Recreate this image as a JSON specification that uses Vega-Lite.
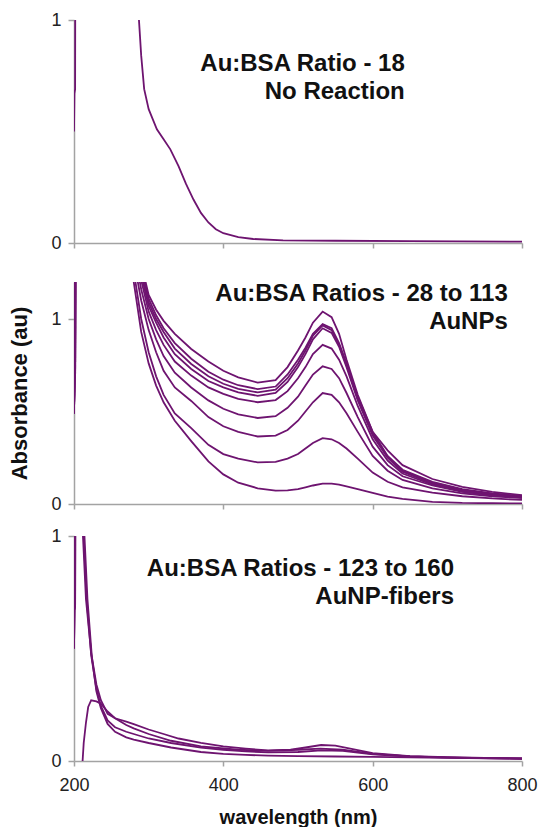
{
  "$schema": "https://vega.github.io/schema/vega-lite/v6.json",
  "padding": {"left": 8, "top": 11, "right": 2, "bottom": 0},
  "background": "white",
  "spacing": 0,
  "config": {
    "font": "Liberation Sans",
    "view": {"stroke": null},
    "axis": {
      "grid": false,
      "labelFlush": false,
      "labelOverlap": false,
      "domainColor": "#a3a3a3",
      "domainWidth": 1.5,
      "tickColor": "#a3a3a3",
      "tickWidth": 1.5,
      "labelColor": "#222222",
      "labelFont": "Liberation Sans",
      "labelFontSize": 18,
      "labelFontWeight": "normal",
      "titleFont": "Liberation Sans",
      "titleColor": "#111111",
      "titleFontWeight": "bold"
    }
  },
  "datasets": {
    "p1": [
      {"wl": 200, "a": 0.5}, {"wl": 200.6, "a": 0.67}, {"wl": 201.5, "a": 0.69}, {"wl": 202.5, "a": 3},
      {"wl": 275, "a": 3}, {"wl": 287, "a": 1.0}, {"wl": 290, "a": 0.84}, {"wl": 294, "a": 0.69},
      {"wl": 300, "a": 0.6}, {"wl": 311, "a": 0.51}, {"wl": 320, "a": 0.465}, {"wl": 329, "a": 0.42},
      {"wl": 340, "a": 0.345}, {"wl": 350, "a": 0.265}, {"wl": 360, "a": 0.195}, {"wl": 370, "a": 0.135},
      {"wl": 380, "a": 0.092}, {"wl": 390, "a": 0.062}, {"wl": 400, "a": 0.044}, {"wl": 420, "a": 0.026},
      {"wl": 440, "a": 0.018}, {"wl": 480, "a": 0.012}, {"wl": 550, "a": 0.01}, {"wl": 650, "a": 0.008},
      {"wl": 800, "a": 0.006}
    ],
    "p2": [
      {"s": "c1", "wl": 200, "a": 0.49}, {"s": "c1", "wl": 200.6, "a": 0.68}, {"s": "c1", "wl": 201.5, "a": 0.7}, {"s": "c1", "wl": 202.5, "a": 3}, {"s": "c1", "wl": 268, "a": 3},
      {"s": "c1", "wl": 280, "a": 1.6}, {"s": "c1", "wl": 290, "a": 1.3}, {"s": "c1", "wl": 300, "a": 1.13}, {"s": "c1", "wl": 310, "a": 1.05}, {"s": "c1", "wl": 320, "a": 0.99}, {"s": "c1", "wl": 335, "a": 0.92}, {"s": "c1", "wl": 357, "a": 0.838}, {"s": "c1", "wl": 380, "a": 0.77}, {"s": "c1", "wl": 400, "a": 0.72}, {"s": "c1", "wl": 420, "a": 0.685}, {"s": "c1", "wl": 446, "a": 0.656}, {"s": "c1", "wl": 470, "a": 0.67}, {"s": "c1", "wl": 486, "a": 0.74}, {"s": "c1", "wl": 500, "a": 0.83}, {"s": "c1", "wl": 510, "a": 0.9}, {"s": "c1", "wl": 520, "a": 0.98}, {"s": "c1", "wl": 533, "a": 1.04}, {"s": "c1", "wl": 545, "a": 1.01}, {"s": "c1", "wl": 555, "a": 0.92}, {"s": "c1", "wl": 565, "a": 0.78}, {"s": "c1", "wl": 580, "a": 0.59}, {"s": "c1", "wl": 600, "a": 0.39}, {"s": "c1", "wl": 620, "a": 0.29}, {"s": "c1", "wl": 640, "a": 0.21}, {"s": "c1", "wl": 680, "a": 0.135}, {"s": "c1", "wl": 720, "a": 0.092}, {"s": "c1", "wl": 760, "a": 0.066}, {"s": "c1", "wl": 800, "a": 0.048},
      {"s": "c2", "wl": 200, "a": 0.49}, {"s": "c2", "wl": 200.6, "a": 0.68}, {"s": "c2", "wl": 201.5, "a": 0.7}, {"s": "c2", "wl": 202.5, "a": 3}, {"s": "c2", "wl": 268, "a": 3},
      {"s": "c2", "wl": 280, "a": 1.55}, {"s": "c2", "wl": 290, "a": 1.27}, {"s": "c2", "wl": 300, "a": 1.11}, {"s": "c2", "wl": 310, "a": 1.02}, {"s": "c2", "wl": 320, "a": 0.95}, {"s": "c2", "wl": 335, "a": 0.87}, {"s": "c2", "wl": 357, "a": 0.785}, {"s": "c2", "wl": 380, "a": 0.715}, {"s": "c2", "wl": 400, "a": 0.672}, {"s": "c2", "wl": 420, "a": 0.642}, {"s": "c2", "wl": 446, "a": 0.621}, {"s": "c2", "wl": 470, "a": 0.635}, {"s": "c2", "wl": 486, "a": 0.7}, {"s": "c2", "wl": 500, "a": 0.78}, {"s": "c2", "wl": 510, "a": 0.845}, {"s": "c2", "wl": 520, "a": 0.92}, {"s": "c2", "wl": 533, "a": 0.972}, {"s": "c2", "wl": 545, "a": 0.95}, {"s": "c2", "wl": 555, "a": 0.87}, {"s": "c2", "wl": 565, "a": 0.76}, {"s": "c2", "wl": 580, "a": 0.58}, {"s": "c2", "wl": 600, "a": 0.39}, {"s": "c2", "wl": 620, "a": 0.26}, {"s": "c2", "wl": 640, "a": 0.185}, {"s": "c2", "wl": 680, "a": 0.12}, {"s": "c2", "wl": 720, "a": 0.08}, {"s": "c2", "wl": 760, "a": 0.057}, {"s": "c2", "wl": 800, "a": 0.043},
      {"s": "c3", "wl": 200, "a": 0.49}, {"s": "c3", "wl": 200.6, "a": 0.68}, {"s": "c3", "wl": 201.5, "a": 0.7}, {"s": "c3", "wl": 202.5, "a": 3}, {"s": "c3", "wl": 268, "a": 3},
      {"s": "c3", "wl": 280, "a": 1.52}, {"s": "c3", "wl": 290, "a": 1.25}, {"s": "c3", "wl": 300, "a": 1.09}, {"s": "c3", "wl": 310, "a": 1.0}, {"s": "c3", "wl": 320, "a": 0.93}, {"s": "c3", "wl": 335, "a": 0.84}, {"s": "c3", "wl": 357, "a": 0.757}, {"s": "c3", "wl": 380, "a": 0.69}, {"s": "c3", "wl": 400, "a": 0.65}, {"s": "c3", "wl": 420, "a": 0.622}, {"s": "c3", "wl": 446, "a": 0.603}, {"s": "c3", "wl": 470, "a": 0.618}, {"s": "c3", "wl": 486, "a": 0.68}, {"s": "c3", "wl": 500, "a": 0.76}, {"s": "c3", "wl": 510, "a": 0.83}, {"s": "c3", "wl": 520, "a": 0.91}, {"s": "c3", "wl": 533, "a": 0.965}, {"s": "c3", "wl": 545, "a": 0.94}, {"s": "c3", "wl": 555, "a": 0.86}, {"s": "c3", "wl": 565, "a": 0.75}, {"s": "c3", "wl": 580, "a": 0.57}, {"s": "c3", "wl": 600, "a": 0.38}, {"s": "c3", "wl": 620, "a": 0.255}, {"s": "c3", "wl": 640, "a": 0.18}, {"s": "c3", "wl": 680, "a": 0.115}, {"s": "c3", "wl": 720, "a": 0.076}, {"s": "c3", "wl": 760, "a": 0.054}, {"s": "c3", "wl": 800, "a": 0.041},
      {"s": "c4", "wl": 200, "a": 0.49}, {"s": "c4", "wl": 200.6, "a": 0.68}, {"s": "c4", "wl": 201.5, "a": 0.7}, {"s": "c4", "wl": 202.5, "a": 3}, {"s": "c4", "wl": 268, "a": 3},
      {"s": "c4", "wl": 280, "a": 1.5}, {"s": "c4", "wl": 290, "a": 1.24}, {"s": "c4", "wl": 300, "a": 1.07}, {"s": "c4", "wl": 310, "a": 0.98}, {"s": "c4", "wl": 320, "a": 0.9}, {"s": "c4", "wl": 335, "a": 0.81}, {"s": "c4", "wl": 357, "a": 0.73}, {"s": "c4", "wl": 380, "a": 0.665}, {"s": "c4", "wl": 400, "a": 0.63}, {"s": "c4", "wl": 420, "a": 0.603}, {"s": "c4", "wl": 446, "a": 0.585}, {"s": "c4", "wl": 470, "a": 0.6}, {"s": "c4", "wl": 486, "a": 0.66}, {"s": "c4", "wl": 500, "a": 0.74}, {"s": "c4", "wl": 510, "a": 0.81}, {"s": "c4", "wl": 520, "a": 0.89}, {"s": "c4", "wl": 533, "a": 0.95}, {"s": "c4", "wl": 545, "a": 0.925}, {"s": "c4", "wl": 555, "a": 0.85}, {"s": "c4", "wl": 565, "a": 0.74}, {"s": "c4", "wl": 580, "a": 0.56}, {"s": "c4", "wl": 600, "a": 0.37}, {"s": "c4", "wl": 620, "a": 0.25}, {"s": "c4", "wl": 640, "a": 0.175}, {"s": "c4", "wl": 680, "a": 0.11}, {"s": "c4", "wl": 720, "a": 0.073}, {"s": "c4", "wl": 760, "a": 0.052}, {"s": "c4", "wl": 800, "a": 0.04},
      {"s": "c5", "wl": 200, "a": 0.49}, {"s": "c5", "wl": 200.6, "a": 0.68}, {"s": "c5", "wl": 201.5, "a": 0.7}, {"s": "c5", "wl": 202.5, "a": 3}, {"s": "c5", "wl": 268, "a": 3},
      {"s": "c5", "wl": 280, "a": 1.45}, {"s": "c5", "wl": 290, "a": 1.21}, {"s": "c5", "wl": 300, "a": 1.04}, {"s": "c5", "wl": 310, "a": 0.94}, {"s": "c5", "wl": 320, "a": 0.86}, {"s": "c5", "wl": 335, "a": 0.77}, {"s": "c5", "wl": 357, "a": 0.694}, {"s": "c5", "wl": 380, "a": 0.63}, {"s": "c5", "wl": 400, "a": 0.595}, {"s": "c5", "wl": 420, "a": 0.568}, {"s": "c5", "wl": 446, "a": 0.55}, {"s": "c5", "wl": 470, "a": 0.562}, {"s": "c5", "wl": 486, "a": 0.61}, {"s": "c5", "wl": 500, "a": 0.68}, {"s": "c5", "wl": 510, "a": 0.74}, {"s": "c5", "wl": 520, "a": 0.81}, {"s": "c5", "wl": 533, "a": 0.86}, {"s": "c5", "wl": 545, "a": 0.84}, {"s": "c5", "wl": 555, "a": 0.78}, {"s": "c5", "wl": 565, "a": 0.69}, {"s": "c5", "wl": 580, "a": 0.53}, {"s": "c5", "wl": 600, "a": 0.35}, {"s": "c5", "wl": 620, "a": 0.235}, {"s": "c5", "wl": 640, "a": 0.165}, {"s": "c5", "wl": 680, "a": 0.105}, {"s": "c5", "wl": 720, "a": 0.07}, {"s": "c5", "wl": 760, "a": 0.05}, {"s": "c5", "wl": 800, "a": 0.038},
      {"s": "c6", "wl": 200, "a": 0.49}, {"s": "c6", "wl": 200.6, "a": 0.68}, {"s": "c6", "wl": 201.5, "a": 0.7}, {"s": "c6", "wl": 202.5, "a": 3}, {"s": "c6", "wl": 268, "a": 3},
      {"s": "c6", "wl": 280, "a": 1.38}, {"s": "c6", "wl": 290, "a": 1.16}, {"s": "c6", "wl": 300, "a": 1.0}, {"s": "c6", "wl": 310, "a": 0.89}, {"s": "c6", "wl": 320, "a": 0.8}, {"s": "c6", "wl": 335, "a": 0.71}, {"s": "c6", "wl": 357, "a": 0.63}, {"s": "c6", "wl": 380, "a": 0.56}, {"s": "c6", "wl": 400, "a": 0.515}, {"s": "c6", "wl": 420, "a": 0.485}, {"s": "c6", "wl": 446, "a": 0.465}, {"s": "c6", "wl": 470, "a": 0.475}, {"s": "c6", "wl": 486, "a": 0.52}, {"s": "c6", "wl": 500, "a": 0.58}, {"s": "c6", "wl": 510, "a": 0.64}, {"s": "c6", "wl": 520, "a": 0.7}, {"s": "c6", "wl": 533, "a": 0.744}, {"s": "c6", "wl": 545, "a": 0.73}, {"s": "c6", "wl": 555, "a": 0.68}, {"s": "c6", "wl": 565, "a": 0.6}, {"s": "c6", "wl": 580, "a": 0.47}, {"s": "c6", "wl": 600, "a": 0.31}, {"s": "c6", "wl": 620, "a": 0.21}, {"s": "c6", "wl": 640, "a": 0.15}, {"s": "c6", "wl": 680, "a": 0.1}, {"s": "c6", "wl": 720, "a": 0.066}, {"s": "c6", "wl": 760, "a": 0.048}, {"s": "c6", "wl": 800, "a": 0.036},
      {"s": "c7", "wl": 200, "a": 0.49}, {"s": "c7", "wl": 200.6, "a": 0.68}, {"s": "c7", "wl": 201.5, "a": 0.7}, {"s": "c7", "wl": 202.5, "a": 3}, {"s": "c7", "wl": 268, "a": 3},
      {"s": "c7", "wl": 280, "a": 1.32}, {"s": "c7", "wl": 290, "a": 1.1}, {"s": "c7", "wl": 300, "a": 0.94}, {"s": "c7", "wl": 310, "a": 0.82}, {"s": "c7", "wl": 320, "a": 0.72}, {"s": "c7", "wl": 335, "a": 0.63}, {"s": "c7", "wl": 357, "a": 0.557}, {"s": "c7", "wl": 380, "a": 0.47}, {"s": "c7", "wl": 400, "a": 0.42}, {"s": "c7", "wl": 420, "a": 0.39}, {"s": "c7", "wl": 446, "a": 0.365}, {"s": "c7", "wl": 470, "a": 0.37}, {"s": "c7", "wl": 486, "a": 0.4}, {"s": "c7", "wl": 500, "a": 0.45}, {"s": "c7", "wl": 510, "a": 0.5}, {"s": "c7", "wl": 520, "a": 0.55}, {"s": "c7", "wl": 533, "a": 0.6}, {"s": "c7", "wl": 545, "a": 0.59}, {"s": "c7", "wl": 555, "a": 0.55}, {"s": "c7", "wl": 565, "a": 0.49}, {"s": "c7", "wl": 580, "a": 0.39}, {"s": "c7", "wl": 600, "a": 0.26}, {"s": "c7", "wl": 620, "a": 0.18}, {"s": "c7", "wl": 640, "a": 0.13}, {"s": "c7", "wl": 680, "a": 0.085}, {"s": "c7", "wl": 720, "a": 0.058}, {"s": "c7", "wl": 760, "a": 0.042}, {"s": "c7", "wl": 800, "a": 0.032},
      {"s": "c8", "wl": 200, "a": 0.49}, {"s": "c8", "wl": 200.6, "a": 0.68}, {"s": "c8", "wl": 201.5, "a": 0.7}, {"s": "c8", "wl": 202.5, "a": 3}, {"s": "c8", "wl": 268, "a": 3},
      {"s": "c8", "wl": 280, "a": 1.26}, {"s": "c8", "wl": 290, "a": 1.0}, {"s": "c8", "wl": 300, "a": 0.82}, {"s": "c8", "wl": 310, "a": 0.69}, {"s": "c8", "wl": 320, "a": 0.59}, {"s": "c8", "wl": 335, "a": 0.49}, {"s": "c8", "wl": 357, "a": 0.41}, {"s": "c8", "wl": 380, "a": 0.32}, {"s": "c8", "wl": 400, "a": 0.27}, {"s": "c8", "wl": 420, "a": 0.245}, {"s": "c8", "wl": 446, "a": 0.225}, {"s": "c8", "wl": 470, "a": 0.228}, {"s": "c8", "wl": 486, "a": 0.245}, {"s": "c8", "wl": 500, "a": 0.27}, {"s": "c8", "wl": 510, "a": 0.3}, {"s": "c8", "wl": 520, "a": 0.33}, {"s": "c8", "wl": 533, "a": 0.356}, {"s": "c8", "wl": 545, "a": 0.35}, {"s": "c8", "wl": 555, "a": 0.33}, {"s": "c8", "wl": 565, "a": 0.3}, {"s": "c8", "wl": 580, "a": 0.245}, {"s": "c8", "wl": 600, "a": 0.17}, {"s": "c8", "wl": 620, "a": 0.12}, {"s": "c8", "wl": 640, "a": 0.09}, {"s": "c8", "wl": 680, "a": 0.062}, {"s": "c8", "wl": 720, "a": 0.042}, {"s": "c8", "wl": 760, "a": 0.03}, {"s": "c8", "wl": 800, "a": 0.022},
      {"s": "c9", "wl": 200, "a": 0.49}, {"s": "c9", "wl": 200.6, "a": 0.68}, {"s": "c9", "wl": 201.5, "a": 0.7}, {"s": "c9", "wl": 202.5, "a": 3}, {"s": "c9", "wl": 268, "a": 3},
      {"s": "c9", "wl": 280, "a": 1.2}, {"s": "c9", "wl": 290, "a": 0.93}, {"s": "c9", "wl": 300, "a": 0.76}, {"s": "c9", "wl": 310, "a": 0.64}, {"s": "c9", "wl": 320, "a": 0.55}, {"s": "c9", "wl": 335, "a": 0.45}, {"s": "c9", "wl": 357, "a": 0.34}, {"s": "c9", "wl": 380, "a": 0.23}, {"s": "c9", "wl": 400, "a": 0.16}, {"s": "c9", "wl": 420, "a": 0.115}, {"s": "c9", "wl": 446, "a": 0.085}, {"s": "c9", "wl": 470, "a": 0.072}, {"s": "c9", "wl": 486, "a": 0.074}, {"s": "c9", "wl": 500, "a": 0.08}, {"s": "c9", "wl": 510, "a": 0.09}, {"s": "c9", "wl": 520, "a": 0.1}, {"s": "c9", "wl": 533, "a": 0.11}, {"s": "c9", "wl": 545, "a": 0.11}, {"s": "c9", "wl": 555, "a": 0.105}, {"s": "c9", "wl": 565, "a": 0.095}, {"s": "c9", "wl": 580, "a": 0.08}, {"s": "c9", "wl": 600, "a": 0.06}, {"s": "c9", "wl": 620, "a": 0.04}, {"s": "c9", "wl": 640, "a": 0.028}, {"s": "c9", "wl": 680, "a": 0.012}, {"s": "c9", "wl": 720, "a": 0.006}, {"s": "c9", "wl": 760, "a": 0.004}, {"s": "c9", "wl": 800, "a": 0.003}
    ],
    "p3": [
      {"s": "d1", "wl": 211.5, "a": 0}, {"s": "d1", "wl": 213, "a": 0.08}, {"s": "d1", "wl": 216, "a": 0.17}, {"s": "d1", "wl": 219, "a": 0.24}, {"s": "d1", "wl": 223, "a": 0.27}, {"s": "d1", "wl": 230, "a": 0.265}, {"s": "d1", "wl": 236, "a": 0.255}, {"s": "d1", "wl": 245, "a": 0.22}, {"s": "d1", "wl": 255, "a": 0.19}, {"s": "d1", "wl": 270, "a": 0.16}, {"s": "d1", "wl": 280, "a": 0.145}, {"s": "d1", "wl": 300, "a": 0.12}, {"s": "d1", "wl": 330, "a": 0.09}, {"s": "d1", "wl": 370, "a": 0.065}, {"s": "d1", "wl": 420, "a": 0.05}, {"s": "d1", "wl": 460, "a": 0.045}, {"s": "d1", "wl": 500, "a": 0.05}, {"s": "d1", "wl": 530, "a": 0.055}, {"s": "d1", "wl": 560, "a": 0.05}, {"s": "d1", "wl": 600, "a": 0.032}, {"s": "d1", "wl": 650, "a": 0.02}, {"s": "d1", "wl": 700, "a": 0.015}, {"s": "d1", "wl": 800, "a": 0.01},
      {"s": "d2", "wl": 200, "a": 0.5}, {"s": "d2", "wl": 200.6, "a": 0.67}, {"s": "d2", "wl": 201.5, "a": 0.69}, {"s": "d2", "wl": 202.5, "a": 3}, {"s": "d2", "wl": 208, "a": 3}, {"s": "d2", "wl": 212, "a": 1.0}, {"s": "d2", "wl": 216, "a": 0.72}, {"s": "d2", "wl": 223, "a": 0.48}, {"s": "d2", "wl": 230, "a": 0.34}, {"s": "d2", "wl": 236, "a": 0.27}, {"s": "d2", "wl": 245, "a": 0.21}, {"s": "d2", "wl": 255, "a": 0.19}, {"s": "d2", "wl": 270, "a": 0.175}, {"s": "d2", "wl": 280, "a": 0.164}, {"s": "d2", "wl": 300, "a": 0.14}, {"s": "d2", "wl": 320, "a": 0.12}, {"s": "d2", "wl": 340, "a": 0.1}, {"s": "d2", "wl": 370, "a": 0.081}, {"s": "d2", "wl": 400, "a": 0.065}, {"s": "d2", "wl": 430, "a": 0.055}, {"s": "d2", "wl": 460, "a": 0.047}, {"s": "d2", "wl": 490, "a": 0.05}, {"s": "d2", "wl": 510, "a": 0.06}, {"s": "d2", "wl": 531, "a": 0.071}, {"s": "d2", "wl": 550, "a": 0.068}, {"s": "d2", "wl": 570, "a": 0.055}, {"s": "d2", "wl": 600, "a": 0.035}, {"s": "d2", "wl": 650, "a": 0.022}, {"s": "d2", "wl": 700, "a": 0.017}, {"s": "d2", "wl": 750, "a": 0.014}, {"s": "d2", "wl": 800, "a": 0.012},
      {"s": "d3", "wl": 200, "a": 0.5}, {"s": "d3", "wl": 200.6, "a": 0.67}, {"s": "d3", "wl": 201.5, "a": 0.69}, {"s": "d3", "wl": 202.5, "a": 3}, {"s": "d3", "wl": 208, "a": 3}, {"s": "d3", "wl": 213, "a": 1.0}, {"s": "d3", "wl": 217, "a": 0.72}, {"s": "d3", "wl": 223, "a": 0.47}, {"s": "d3", "wl": 230, "a": 0.32}, {"s": "d3", "wl": 236, "a": 0.245}, {"s": "d3", "wl": 245, "a": 0.18}, {"s": "d3", "wl": 255, "a": 0.15}, {"s": "d3", "wl": 270, "a": 0.13}, {"s": "d3", "wl": 280, "a": 0.12}, {"s": "d3", "wl": 300, "a": 0.1}, {"s": "d3", "wl": 330, "a": 0.08}, {"s": "d3", "wl": 370, "a": 0.059}, {"s": "d3", "wl": 400, "a": 0.05}, {"s": "d3", "wl": 430, "a": 0.043}, {"s": "d3", "wl": 460, "a": 0.038}, {"s": "d3", "wl": 500, "a": 0.04}, {"s": "d3", "wl": 531, "a": 0.047}, {"s": "d3", "wl": 560, "a": 0.045}, {"s": "d3", "wl": 600, "a": 0.03}, {"s": "d3", "wl": 650, "a": 0.02}, {"s": "d3", "wl": 700, "a": 0.016}, {"s": "d3", "wl": 750, "a": 0.013}, {"s": "d3", "wl": 800, "a": 0.012},
      {"s": "d4", "wl": 200, "a": 0.5}, {"s": "d4", "wl": 200.6, "a": 0.67}, {"s": "d4", "wl": 201.5, "a": 0.69}, {"s": "d4", "wl": 202.5, "a": 3}, {"s": "d4", "wl": 208, "a": 3}, {"s": "d4", "wl": 214, "a": 1.0}, {"s": "d4", "wl": 218, "a": 0.72}, {"s": "d4", "wl": 224, "a": 0.46}, {"s": "d4", "wl": 230, "a": 0.31}, {"s": "d4", "wl": 236, "a": 0.235}, {"s": "d4", "wl": 245, "a": 0.165}, {"s": "d4", "wl": 255, "a": 0.13}, {"s": "d4", "wl": 270, "a": 0.105}, {"s": "d4", "wl": 280, "a": 0.095}, {"s": "d4", "wl": 300, "a": 0.08}, {"s": "d4", "wl": 330, "a": 0.06}, {"s": "d4", "wl": 370, "a": 0.04}, {"s": "d4", "wl": 400, "a": 0.032}, {"s": "d4", "wl": 430, "a": 0.027}, {"s": "d4", "wl": 460, "a": 0.024}, {"s": "d4", "wl": 500, "a": 0.022}, {"s": "d4", "wl": 550, "a": 0.02}, {"s": "d4", "wl": 600, "a": 0.018}, {"s": "d4", "wl": 700, "a": 0.014}, {"s": "d4", "wl": 800, "a": 0.01}
    ]
  },
  "vconcat": [
    {
      "width": 448,
      "height": 223,
      "layer": [
        {
          "data": {"name": "p1"},
          "mark": {"type": "line", "clip": true, "color": "#6e1470", "strokeWidth": 1.8},
          "encoding": {
            "x": {"field": "wl", "type": "quantitative", "scale": {"domain": [200, 800], "nice": false, "zero": false},
                  "axis": {"values": [200, 400, 600, 800], "labels": false, "title": null, "tickSize": 5, "minExtent": 39}},
            "y": {"field": "a", "type": "quantitative", "scale": {"domain": [0, 1], "nice": false},
                  "axis": {"values": [0, 1], "format": "d", "title": null, "tickSize": 6, "labelPadding": 7, "minExtent": 0}}
          }
        },
        {
          "data": {"values": [{"label": "Au:BSA Ratio - 18\nNo Reaction"}]},
          "mark": {"type": "text", "align": "right", "baseline": "alphabetic", "font": "Liberation Sans", "fontWeight": "bold", "fontSize": 24, "lineBreak": "\n", "lineHeight": 28, "color": "#111111"},
          "encoding": {
            "x": {"datum": 643, "type": "quantitative"},
            "y": {"datum": 0.771, "type": "quantitative"},
            "text": {"field": "label"}
          }
        }
      ]
    },
    {
      "width": 448,
      "height": 222,
      "layer": [
        {
          "data": {"name": "p2"},
          "mark": {"type": "line", "clip": true, "color": "#6e1470", "strokeWidth": 1.8},
          "encoding": {
            "x": {"field": "wl", "type": "quantitative", "scale": {"domain": [200, 800], "nice": false, "zero": false},
                  "axis": {"values": [200, 400, 600, 800], "labels": false, "title": null, "tickSize": 5, "minExtent": 23}},
            "y": {"field": "a", "type": "quantitative", "scale": {"domain": [0, 1.2], "nice": false},
                  "axis": {"values": [0, 1], "format": "d", "title": "Absorbance (au)", "titleFontSize": 22, "titlePadding": 17, "tickSize": 6, "labelPadding": 7, "minExtent": 26}},
            "detail": {"field": "s"}
          }
        },
        {
          "data": {"values": [{"label": "Au:BSA Ratios - 28 to 113\nAuNPs"}]},
          "mark": {"type": "text", "align": "right", "baseline": "alphabetic", "font": "Liberation Sans", "fontWeight": "bold", "fontSize": 24, "lineBreak": "\n", "lineHeight": 28, "color": "#111111"},
          "encoding": {
            "x": {"datum": 781, "type": "quantitative"},
            "y": {"datum": 1.097, "type": "quantitative"},
            "text": {"field": "label"}
          }
        }
      ]
    },
    {
      "width": 448,
      "height": 225,
      "layer": [
        {
          "data": {"name": "p3"},
          "mark": {"type": "line", "clip": true, "color": "#6e1470", "strokeWidth": 1.8},
          "encoding": {
            "x": {"field": "wl", "type": "quantitative", "scale": {"domain": [200, 800], "nice": false, "zero": false},
                  "axis": {"values": [200, 400, 600, 800], "title": "wavelength (nm)", "titleFontSize": 20, "titlePadding": 13, "tickSize": 5, "labelPadding": 10}},
            "y": {"field": "a", "type": "quantitative", "scale": {"domain": [0, 1], "nice": false},
                  "axis": {"values": [0, 1], "format": "d", "title": null, "tickSize": 6, "labelPadding": 7, "minExtent": 0}},
            "detail": {"field": "s"}
          }
        },
        {
          "data": {"values": [{"label": "Au:BSA Ratios - 123 to 160\nAuNP-fibers"}]},
          "mark": {"type": "text", "align": "right", "baseline": "alphabetic", "font": "Liberation Sans", "fontWeight": "bold", "fontSize": 24, "lineBreak": "\n", "lineHeight": 28, "color": "#111111"},
          "encoding": {
            "x": {"datum": 709, "type": "quantitative"},
            "y": {"datum": 0.822, "type": "quantitative"},
            "text": {"field": "label"}
          }
        }
      ]
    }
  ]
}
